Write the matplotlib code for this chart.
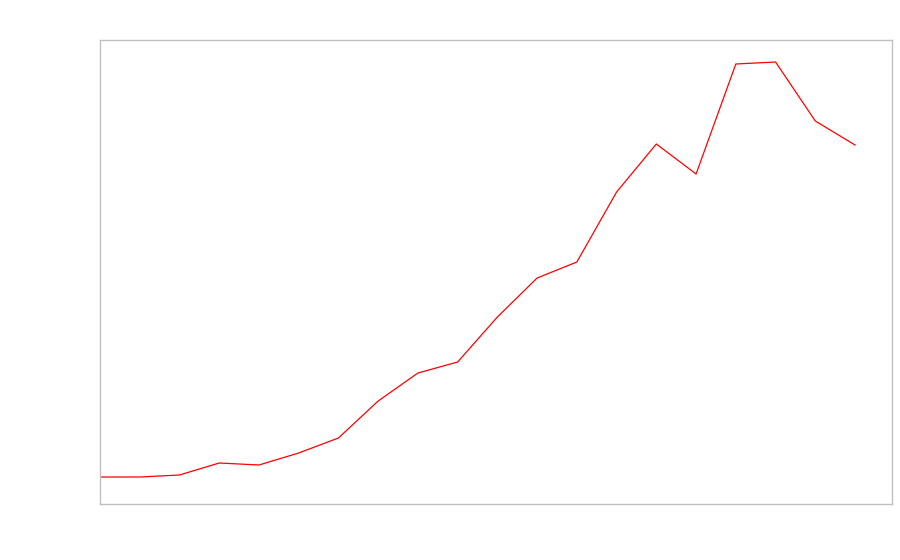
import numpy as np
import matplotlib
matplotlib.use("Agg")
import matplotlib.pyplot as plt

# ── Data (no labels are shown on the chart) ───────────────────────────────────
x_idx  = list(range(20))
values = [27, 27, 29, 41, 39, 51, 66, 103, 131, 142,
          187, 226, 242, 312, 360, 330, 440, 442, 383, 359]

fig = plt.figure(figsize=(9, 5.6), dpi=100)
ax = fig.add_axes([100 / 900, 56 / 560, 792 / 900, 464 / 560])

ax.plot(x_idx, values, color="red", linewidth=0.9)

ax.set_xlim(0, 19.93)
ax.set_ylim(0, 464)
ax.set_xticks([])
ax.set_yticks([])
for sp in ax.spines.values():
    sp.set_color("#c0c0c0")
    sp.set_linewidth(1.0)

fig.savefig("out.png", dpi=100)
